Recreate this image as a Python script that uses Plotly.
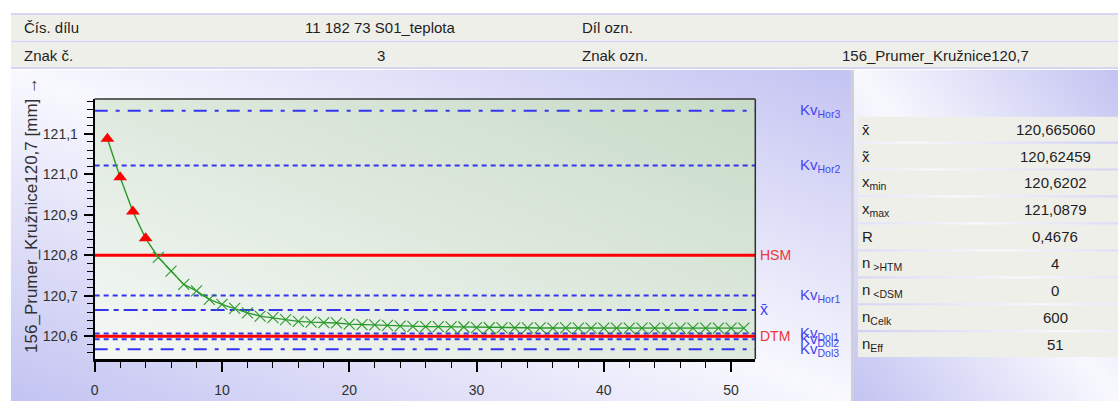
import numpy as np
import plotly.graph_objects as go

W, H = 1118, 401
FONT = "Liberation Sans, Arial, sans-serif"

# ---- measured values (sample number -> diameter in mm) ----
samples = list(range(1, 52))
values = [121.0879, 120.993, 120.908, 120.842, 120.795, 120.761, 120.728, 120.712, 120.691, 120.679,
          120.669, 120.658, 120.650, 120.646, 120.641, 120.637, 120.635, 120.634, 120.633, 120.630,
          120.629, 120.628, 120.627, 120.625, 120.6246, 120.624, 120.624, 120.6235, 120.623,
          120.6215, 120.6212, 120.6210, 120.6208, 120.6210, 120.6207, 120.6205, 120.6206, 120.6204,
          120.6205, 120.6203, 120.6204, 120.6203, 120.6202, 120.6204, 120.6203, 120.6202, 120.6203,
          120.6202, 120.6203, 120.6202, 120.6202]

# ---- tolerance and control limits ----
HSM = 120.8
DTM = 120.6
MEAN = 120.665060
kv_names = ["Kv<sub>Hor3</sub>", "Kv<sub>Hor2</sub>", "Kv<sub>Hor1</sub>",
            "Kv<sub>Dol1</sub>", "Kv<sub>Dol2</sub>", "Kv<sub>Dol3</sub>"]
kv_values = [121.157, 121.022, 120.701, 120.607, 120.593, 120.568]
kv_dashes = ["dashdot", "dot", "dot", "dot", "dot", "dashdot"]

# ---- header table ----
header_labels = [["Čís. dílu", "Díl ozn."], ["Znak č.", "Znak ozn."]]
header_values = [["11 182 73 S01_teplota", ""], ["3", "156_Prumer_Kružnice120,7"]]

# ---- statistics table ----
stat_labels = ["x̄", "x̃", "x<sub>min</sub>", "x<sub>max</sub>", "R",
               "n<sub> &gt;HTM</sub>", "n<sub> &lt;DSM</sub>", "n<sub>Celk</sub>", "n<sub>Eff</sub>"]
stat_values = ["120,665060", "120,62459", "120,6202", "121,0879", "0,4676", "4", "0", "600", "51"]

Y_TITLE = "156_Prumer_Kružnice120,7 [mm] →"

# plot area in pixels
PX0, PX1, PY0, PY1 = 91, 754, 99, 359
X_RANGE = [0, 51.9]
Y_RANGE = [120.544, 121.186]

BLUE = "#3434EE"
RED = "#FF0000"
GREEN = "#2A9A2A"
ROW_BG = "#EFEFEA"
SEP = "#D6D6F2"


def fx(p):
    return p / W


def fy(p):
    return 1 - p / H


def gradient(x0, x1, y0, y1, fn, c0, c1, n=40):
    xs = np.linspace(x0, x1, n + 1)
    ys = np.linspace(y0, y1, n + 1)
    c = (np.arange(n) + 0.5) / n
    U, V = np.meshgrid(c, c)
    return go.Heatmap(x=xs, y=ys, z=fn(U, V), zmin=0, zmax=1,
                      colorscale=[[0, c0], [1, c1]], showscale=False,
                      zsmooth="best", hoverinfo="skip", xaxis="x", yaxis="y")


fig = go.Figure()

# panel backgrounds (pixel-coordinate axes)
fig.add_trace(gradient(7, 850, 70, H, lambda u, v: np.abs(u - v), "#F8F8FE", "#C3C3F2"))
fig.add_trace(gradient(853, W, 70, H, lambda u, v: np.abs(u - v), "#F8F8FE", "#C3C3F2"))
fig.add_trace(gradient(PX0, PX1, PY0, PY1, lambda u, v: (u + 1 - v) / 2, "#F5F8F5", "#C8DBC8"))

# control limit lines
dash_map = {"dashdot": "13px,8px,4px,8px", "dot": "5px,4px"}
for v, d in zip(kv_values, kv_dashes):
    fig.add_trace(go.Scatter(x=X_RANGE, y=[v, v], mode="lines", xaxis="x2", yaxis="y2",
                             line=dict(color=BLUE, width=2, dash=dash_map[d]),
                             hoverinfo="skip", showlegend=False))
fig.add_trace(go.Scatter(x=X_RANGE, y=[MEAN, MEAN], mode="lines", xaxis="x2", yaxis="y2",
                         line=dict(color=BLUE, width=2, dash="14px,5px,5px,5px"),
                         hoverinfo="skip", showlegend=False))
for v in (HSM, DTM):
    fig.add_trace(go.Scatter(x=X_RANGE, y=[v, v], mode="lines", xaxis="x2", yaxis="y2",
                             line=dict(color=RED, width=3), hoverinfo="skip", showlegend=False))

# measured values
fig.add_trace(go.Scatter(x=samples, y=values, mode="lines", xaxis="x2", yaxis="y2",
                         line=dict(color=GREEN, width=1.4), showlegend=False))
ok_x = [s for s, v in zip(samples, values) if v <= HSM]
ok_y = [v for v in values if v <= HSM]
hi_x = [s for s, v in zip(samples, values) if v > HSM]
hi_y = [v for v in values if v > HSM]
fig.add_trace(go.Scatter(x=ok_x, y=ok_y, mode="markers", xaxis="x2", yaxis="y2",
                         marker=dict(symbol="x-thin-open", size=11, color=GREEN,
                                     line=dict(width=1.1, color=GREEN)),
                         showlegend=False))
fig.add_trace(go.Scatter(x=hi_x, y=hi_y, mode="markers", xaxis="x2", yaxis="y2",
                         marker=dict(symbol="triangle-up", size=12, color=RED, line=dict(width=0)),
                         showlegend=False))

shapes = []
ann = []

# header rows
for i, (top, bot) in enumerate([(15, 40), (43, 67)]):
    shapes.append(dict(type="rect", xref="paper", yref="paper", x0=fx(7), x1=1,
                       y0=fy(bot), y1=fy(top), fillcolor=ROW_BG, line=dict(width=0), layer="above"))
    cy = fy((top + bot) / 2)
    ann.append(dict(x=fx(18), y=cy, text=header_labels[i][0], xanchor="left"))
    ann.append(dict(x=fx(378), y=cy, text=header_values[i][0], xanchor="center"))
    ann.append(dict(x=fx(578), y=cy, text=header_labels[i][1], xanchor="left"))
    ann.append(dict(x=fx(935), y=cy, text=header_values[i][1], xanchor="center"))
for yy in (14, 41.5, 68):
    shapes.append(dict(type="line", xref="paper", yref="paper", x0=fx(7), x1=1,
                       y0=fy(yy), y1=fy(yy), line=dict(color=SEP, width=2), layer="above"))

# separator between chart and statistics panel
shapes.append(dict(type="line", xref="paper", yref="paper", x0=fx(851.5), x1=fx(851.5),
                   y0=0, y1=fy(70), line=dict(color="#CFCFD6", width=3), layer="above"))

# statistics rows
pitch = 26.95
for i, (lab, val) in enumerate(zip(stat_labels, stat_values)):
    top = 116.7 + i * pitch
    bot = top + pitch - 2.2
    shapes.append(dict(type="rect", xref="paper", yref="paper", x0=fx(857), x1=1,
                       y0=fy(bot), y1=fy(top), fillcolor=ROW_BG, line=dict(width=0), layer="above"))
    cy = fy((top + bot) / 2)
    ann.append(dict(x=fx(859), y=cy, text=lab, xanchor="left"))
    ann.append(dict(x=fx(1055), y=cy, text=val, xanchor="center"))

# plot frame top / right
shapes.append(dict(type="line", xref="paper", yref="paper", x0=fx(PX0), x1=fx(PX1),
                   y0=fy(PY0), y1=fy(PY0), line=dict(color="#303030", width=1.5), layer="above"))
shapes.append(dict(type="line", xref="paper", yref="paper", x0=fx(PX1), x1=fx(PX1),
                   y0=fy(PY1), y1=fy(PY0), line=dict(color="#303030", width=1.5), layer="above"))

# limit labels on the right of the plot
for name, v in zip(kv_names, kv_values):
    ann.append(dict(x=fx(797), y=v, yref="y2", text=name, xanchor="left",
                    font=dict(family=FONT, size=15, color="#4545EE")))
ann.append(dict(x=fx(757), y=HSM, yref="y2", text="HSM", xanchor="left",
                font=dict(family=FONT, size=14, color="#F03535")))
ann.append(dict(x=fx(757), y=DTM, yref="y2", text="DTM", xanchor="left",
                font=dict(family=FONT, size=14, color="#F03535")))
ann.append(dict(x=fx(757), y=MEAN, yref="y2", text="x̄", xanchor="left",
                font=dict(family=FONT, size=16, color="#4545EE")))

# y axis title
ann.append(dict(x=fx(27), y=fy(215), text=Y_TITLE, textangle=-90, xanchor="center",
                yanchor="middle", font=dict(family=FONT, size=17, color="#303030")))

for a in ann:
    a.setdefault("xref", "paper")
    a.setdefault("yref", "paper")
    a.setdefault("yanchor", "middle")
    a.setdefault("showarrow", False)
    a.setdefault("font", dict(family=FONT, size=15, color="#1E1E1E"))

fig.update_layout(
    width=W, height=H, margin=dict(l=0, r=0, t=0, b=0),
    paper_bgcolor="white", plot_bgcolor="rgba(0,0,0,0)",
    separators=", ", showlegend=False,
    font=dict(family=FONT, size=14, color="#303030"),
    xaxis=dict(domain=[0, 1], range=[0, W], visible=False, fixedrange=True),
    yaxis=dict(domain=[0, 1], range=[H, 0], visible=False, fixedrange=True),
    xaxis2=dict(domain=[fx(PX0), fx(PX1)], range=X_RANGE, anchor="y2",
                showgrid=False, zeroline=False, showline=True, linecolor="black", linewidth=3,
                ticks="outside", ticklen=10, tickwidth=1.5, tickcolor="black",
                tick0=0, dtick=10, ticklabelstandoff=6,
                tickfont=dict(family=FONT, size=14, color="#303030"),
                minor=dict(dtick=2, ticks="outside", ticklen=6, tickwidth=1.3,
                           tickcolor="black", showgrid=False)),
    yaxis2=dict(domain=[fy(PY1), fy(PY0)], range=Y_RANGE, anchor="x2",
                showgrid=False, zeroline=False, showline=True, linecolor="black", linewidth=2,
                ticks="outside", ticklen=9, tickwidth=1.5, tickcolor="black",
                tick0=120.6, dtick=0.1, tickformat=".1f", ticklabelstandoff=3,
                tickfont=dict(family=FONT, size=14, color="#303030"),
                minor=dict(dtick=0.02, tick0=120.6, ticks="outside", ticklen=6, tickwidth=1.3,
                           tickcolor="black", showgrid=False)),
    shapes=shapes, annotations=ann,
)

fig.write_html("out.html")
